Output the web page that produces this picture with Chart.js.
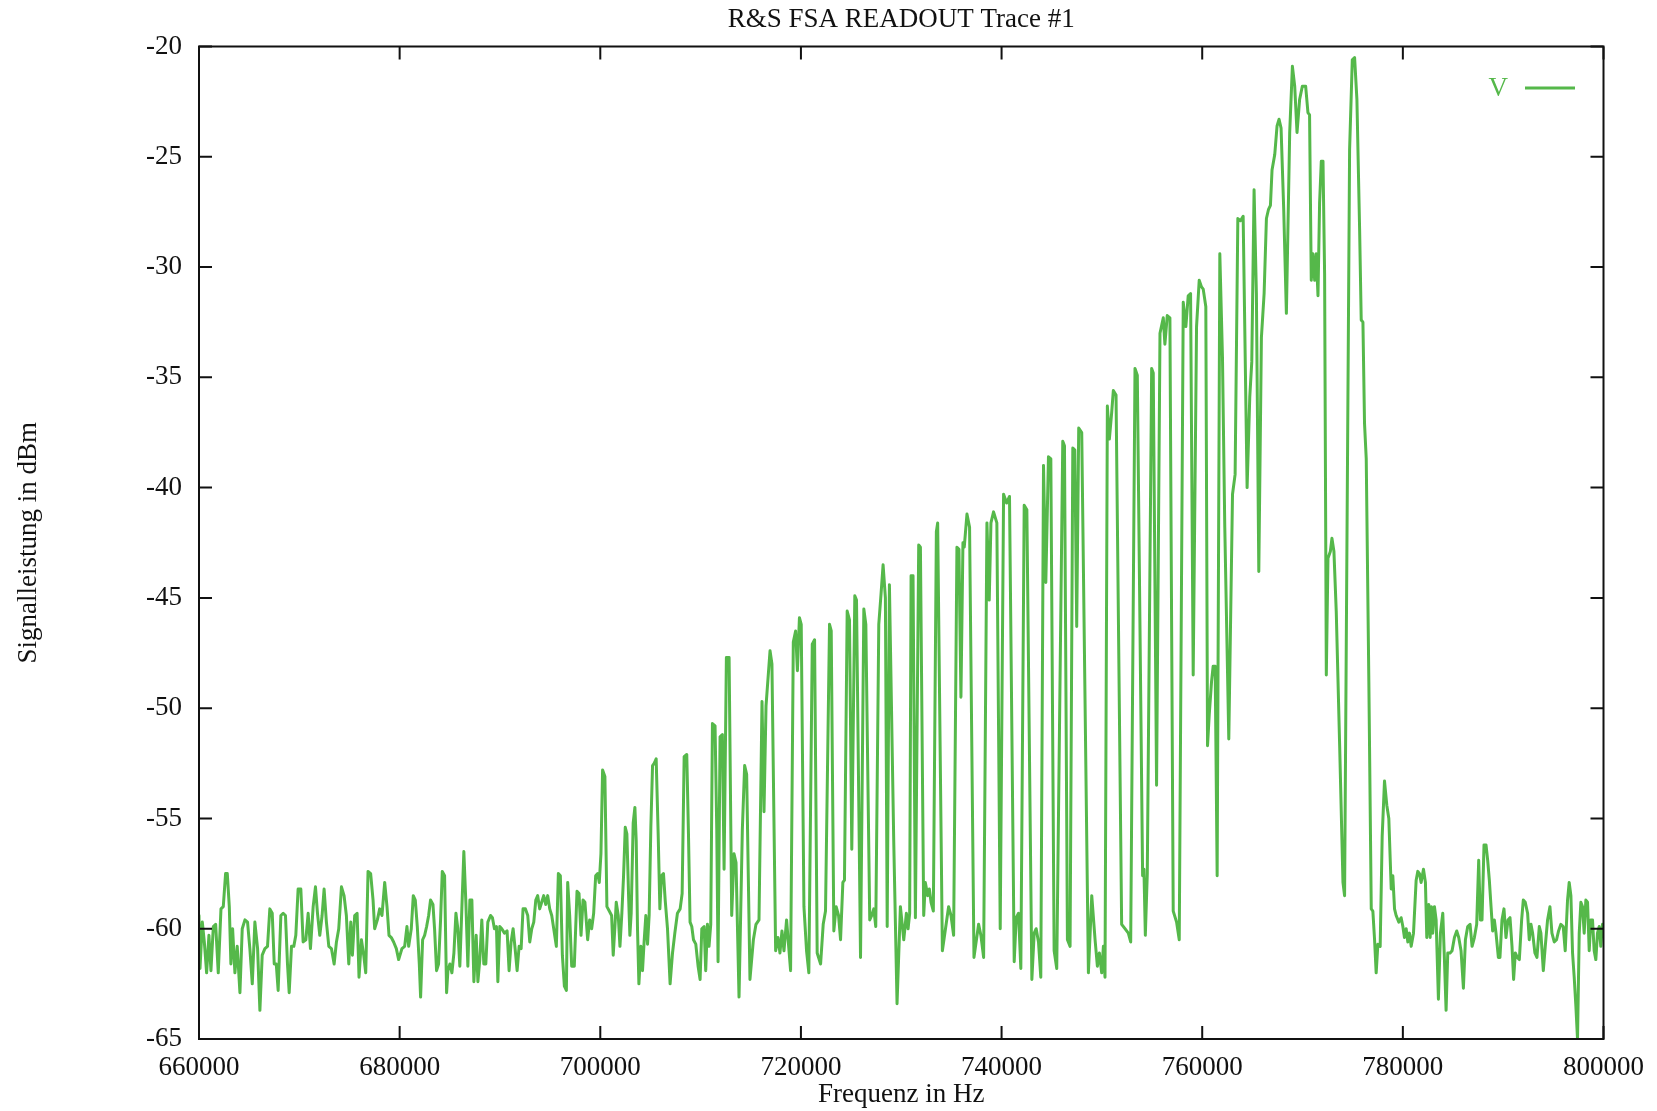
<!DOCTYPE html>
<html>
<head>
<meta charset="utf-8">
<title>R&amp;S FSA READOUT Trace #1</title>
<script src="https://cdn.jsdelivr.net/npm/chart.js@4.4.1/dist/chart.umd.min.js"></script>
<style>
  html, body { margin: 0; padding: 0; background: #fff; }
  canvas { display: block; }
</style>
</head>
<body>
<canvas id="trace" width="1657" height="1111"></canvas>
<script>
const chartTitle = 'R&S FSA READOUT Trace #1';
const seriesName = 'V';
const xTitle = 'Frequenz in Hz';
const yTitle = 'Signalleistung in dBm';

const xTicks = [660000, 680000, 700000, 720000, 740000, 760000, 780000, 800000];
const yTicks = [-65, -60, -55, -50, -45, -40, -35, -30, -25, -20];

// trace, Hz
const freqHz = [
  660000, 660100, 660330, 660530, 660760, 660990, 661190, 661430, 661660, 661920,
  662190, 662420, 662650, 662820, 663020, 663180, 663350, 663580, 663810, 664080,
  664310, 664580, 664840, 665070, 665310, 665570, 665840, 666070, 666300, 666570,
  666830, 667060, 667300, 667500, 667700, 667890, 668160, 668390, 668620, 668820,
  668990, 669220, 669450, 669650, 669880, 670150, 670380, 670650, 670880, 671110,
  671380, 671610, 671810, 672040, 672270, 672470, 672700, 672940, 673200, 673470,
  673700, 673930, 674200, 674460, 674690, 674930, 675130, 675290, 675520, 675760,
  675950, 676190, 676420, 676620, 676850, 677110, 677350, 677510, 677780, 678010,
  678240, 678510, 678740, 678940, 679170, 679400, 679670, 679900,
  680230, 680500, 680730, 680900, 681160, 681360, 681560, 681760, 681960, 682090,
  682290, 682490, 682690, 682890, 683080, 683320, 683480, 683680, 683880, 684080,
  684250, 684480, 684680, 684810, 685010, 685210, 685410, 685610, 685800, 686000,
  686200, 686400, 686600, 686800, 687000, 687200, 687400, 687630, 687800, 687990,
  688190, 688390, 688590, 688790, 689060, 689250, 689450, 689650, 689790, 689980,
  690180, 690450, 690710, 690910, 691110, 691310, 691510, 691710, 691910, 692110,
  692300, 692540, 692770, 692970, 693170, 693370, 693570, 693760, 693960, 694160,
  694360, 694560, 694760, 694960, 695160, 695360, 695620, 695820, 696020, 696220,
  696420, 696620, 696750, 696950, 697150, 697410, 697680, 697880, 698080, 698280,
  698470, 698740, 698940, 699140, 699340, 699540, 699740,
  699900, 700065, 700230, 700460, 700660, 700895, 701130, 701290, 701460, 701590,
  701790, 701960, 702150, 702320, 702490, 702650, 702820, 702950, 703080, 703280,
  703450, 703580, 703710, 703850, 704050, 704210, 704380, 704540, 704710, 704870,
  705040, 705210, 705370, 705570, 705770, 705940, 706100, 706300, 706470, 706700,
  706960, 707200, 707430, 707690, 707960, 708160, 708360, 708620, 708790, 708950,
  709120, 709290, 709520, 709750, 709950, 710120, 710350,
  710510, 710680, 710840, 711010, 711180, 711440, 711610, 711740, 711940, 712170,
  712340, 712570, 712840, 713100, 713330, 713530, 713830, 714160, 714390, 714590,
  714920, 715260, 715520, 715820, 716120, 716320, 716520, 716920, 717110, 717480,
  717710, 717910, 718110, 718310, 718570, 718970, 719240, 719470, 719650, 719850,
  720030,
  720300, 720560, 720790, 721130, 721360, 721620, 721960, 722220, 722450, 722850,
  723020, 723280, 723510, 723750, 723950, 724180, 724340, 724610, 724840, 725070,
  725370, 725540, 725940, 726270, 726470, 726860, 727060, 727260, 727460, 727760,
  727990, 728190, 728420, 728600, 728820, 729250, 729580, 729915, 730250, 730510,
  730680, 730840,
  730980, 731175, 731410, 731740, 731910, 732240, 732400, 732640, 732800, 732970,
  733200, 733500, 733630, 734100, 734720, 734960, 735220, 735550, 735750, 735950,
  736150, 736280, 736550, 736810, 737250, 737710, 737940, 738210, 738540, 738770,
  738940, 739200, 739530, 739865,
  740200, 740500, 740790, 741260, 741460, 741690, 741920, 742255, 742520, 743020,
  743250, 743450, 743680, 743910, 744180, 744410, 744675, 744910, 745240, 745500,
  746100, 746270, 746565, 746830, 747100, 747300, 747490, 747690, 747990, 748655,
  748990, 749320, 749550, 749750, 749980, 750150, 750310,
  750545, 750745, 750975, 751140, 751410, 751970, 752300, 752635, 752870, 753300,
  753530, 754060, 754190, 754330, 754525, 754960, 755120, 755450, 755790, 756120,
  756280, 756515, 756780, 757110, 757445, 757710, 758110, 758370, 758605, 758840,
  759100, 759435, 759700, 759930, 760100, 760360,
  760530, 760700, 760930, 761090, 761290, 761490, 761755, 762020, 762250, 762650,
  763020, 763280, 763550, 763810, 764080, 764475, 764740, 764940, 765170, 765400,
  765640, 765900, 766170, 766400, 766600, 766800, 766960, 767230, 767460, 767660,
  767860, 768125, 768390, 768720, 768990, 769220, 769450, 769710, 769980,
  770310, 770540, 770700, 770870, 771040, 771210, 771370, 771540, 771700, 771870,
  772040, 772200, 772370, 772535, 772770, 772930, 773130, 773360, 773700, 774030,
  774190, 774690, 774960, 775190, 775420, 775690, 775850, 776020, 776180, 776350,
  776610, 776850, 777010, 777180, 777340, 777510, 777740, 777940, 778170, 778400,
  778600, 778840, 779000, 779170, 779330, 779600,
  779830, 780000, 780160, 780330, 780495, 780660, 780830, 781060, 781325, 781490,
  781655, 781820, 782055, 782250, 782385, 782585, 782720, 782850, 782980, 783150,
  783315, 783545, 783745, 783980, 784145, 784310, 784475, 784710, 784905, 785140,
  785370, 785570, 785800, 786035, 786235, 786465, 786700, 786900, 787130, 787360,
  787560, 787725, 787890, 788090, 788290, 788455, 788620, 788790, 788950, 789120,
  789285, 789520, 789680, 789880, 790080, 790280, 790480, 790680, 790880, 791040,
  791210, 791410, 791610, 791840, 792005, 792200, 792435, 792600, 792770, 792935,
  793165, 793365, 793600, 793760, 794000, 794195, 794425, 794660, 794860, 795090,
  795320, 795520, 795750, 795985, 796185, 796415, 796580, 796750, 796915, 797080,
  797245, 797410, 797580, 797745, 797910, 798075, 798240, 798410, 798575, 798740,
  798905, 799070, 799235, 799400, 799570, 799730, 799900, 800000
];

// level at each frequency, dBm
const levelDbm = [
  -59.4, -61.8, -59.7, -60.6, -62.0, -60.3, -61.9, -59.9, -59.8, -62.0,
  -59.1, -59.0, -57.5, -57.5, -59.0, -61.6, -60.0, -62.0, -60.8, -62.9,
  -60.0, -59.6, -59.7, -60.9, -62.5, -59.7, -60.9, -63.7, -61.2, -60.9,
  -60.8, -59.1, -59.3, -61.6, -61.6, -62.8, -59.4, -59.3, -59.4, -61.6,
  -62.9, -60.8, -60.8, -60.3, -58.2, -58.2, -60.6, -60.5, -59.3, -60.9,
  -59.0, -58.1, -59.3, -60.3, -59.4, -58.2, -59.7, -60.8, -60.9, -61.6,
  -60.6, -60.0, -58.1, -58.5, -59.4, -61.6, -59.7, -61.2, -59.4, -59.3,
  -62.2, -60.5, -61.2, -62.0, -57.4, -57.5, -58.7, -60.0, -59.6, -59.1,
  -59.4, -57.9, -59.0, -60.3, -60.4, -60.6, -60.9, -61.4,
  -60.9, -60.8, -59.9, -60.8, -60.0, -58.5, -58.7, -59.9, -61.6, -63.1,
  -60.5, -60.3, -59.9, -59.4, -58.7, -58.9, -60.0, -61.9, -61.6, -59.6,
  -57.4, -57.6, -62.9, -61.9, -61.6, -62.0, -61.1, -59.3, -60.0, -61.7,
  -59.1, -56.5, -58.8, -61.7, -58.7, -58.7, -62.4, -60.3, -62.4, -61.4,
  -59.6, -61.6, -61.6, -59.7, -59.4, -59.5, -60.0, -59.9, -62.4, -59.9,
  -60.0, -60.2, -60.1, -61.9, -60.6, -60.0, -60.9, -61.9, -60.8, -60.9,
  -59.1, -59.1, -59.4, -60.6, -60.0, -59.7, -58.7, -58.5, -59.1, -58.8,
  -58.5, -58.9, -58.5, -59.1, -59.4, -60.0, -60.8, -57.5, -57.6, -61.2,
  -62.6, -62.8, -57.9, -59.4, -61.7, -61.7, -58.3, -58.4, -60.3, -58.7,
  -58.8, -60.5, -59.6, -60.0, -59.3, -57.6, -57.5,
  -57.9, -56.6, -52.8, -53.1, -59.0, -59.2, -59.4, -61.2, -59.9, -58.8,
  -59.4, -60.8, -59.3, -57.6, -55.4, -55.7, -58.5, -60.3, -59.3, -55.2,
  -54.5, -56.0, -60.0, -62.5, -60.8, -61.9, -60.5, -59.4, -60.7, -59.4,
  -55.4, -52.6, -52.5, -52.3, -55.7, -59.1, -57.6, -57.5, -58.7, -60.0,
  -62.5, -61.1, -60.2, -59.3, -59.1, -58.4, -52.2, -52.1, -55.7, -59.7,
  -59.9, -60.5, -60.7, -61.7, -62.3, -60.0, -59.9,
  -61.9, -59.8, -60.8, -59.8, -50.7, -50.8, -55.5, -61.5, -51.3, -51.2,
  -57.3, -47.7, -47.7, -59.4, -56.6, -57.0, -63.1, -55.5, -52.6, -53.0,
  -62.3, -60.5, -59.8, -59.6, -49.7, -54.7, -49.9, -47.4, -48.0, -61.0,
  -60.4, -61.1, -60.1, -61.0, -59.6, -61.9, -47.0, -46.5, -48.3, -45.9,
  -46.2,
  -59.0, -61.0, -62.0, -47.1, -46.9, -61.1, -61.6, -59.8, -59.2, -46.2,
  -46.5, -60.1, -59.0, -59.4, -60.5, -57.9, -57.8, -45.6, -46.0, -56.4,
  -44.9, -45.1, -61.3, -45.5, -46.2, -59.6, -59.4, -59.1, -59.9, -46.2,
  -44.8, -43.5, -45.0, -59.9, -44.4, -56.0, -63.4, -59.0, -60.5, -59.3,
  -60.0, -59.3,
  -44.0, -44.0, -59.5, -42.6, -42.7, -59.4, -57.9, -58.5, -58.2, -58.8,
  -59.2, -42.0, -41.6, -61.0, -59.0, -59.4, -60.3, -42.7, -42.8, -49.5,
  -42.5, -42.7, -41.2, -41.8, -61.3, -59.8, -60.3, -61.3, -41.6, -45.1,
  -41.6, -41.1, -41.6, -60.0,
  -40.3, -40.7, -40.4, -61.5, -59.5, -59.3, -61.8, -40.8, -41.0, -62.3,
  -60.2, -60.0, -60.6, -62.2, -39.0, -44.3, -38.6, -38.7, -61.0, -61.8,
  -37.9, -38.1, -60.5, -60.8, -38.2, -38.3, -46.3, -37.3, -37.5, -62.0,
  -58.5, -60.5, -61.7, -61.1, -62.0, -60.8, -62.2,
  -36.3, -37.8, -36.6, -35.6, -35.8, -59.8, -60.0, -60.2, -60.6, -34.6,
  -34.9, -57.6, -57.3, -60.3, -57.5, -34.6, -34.8, -53.5, -33.0, -32.3,
  -33.5, -32.2, -32.3, -59.2, -59.7, -60.5, -31.6, -32.7, -31.3, -31.2,
  -48.5, -32.7, -30.6, -30.9, -31.0, -31.8,
  -51.7, -50.3, -48.8, -48.1, -48.1, -57.6, -29.4, -34.1, -41.8, -51.4,
  -40.3, -39.4, -27.8, -27.9, -27.7, -40.0, -35.9, -34.3, -26.5, -31.2,
  -43.8, -33.2, -31.2, -27.8, -27.4, -27.2, -25.6, -24.9, -23.6, -23.3,
  -23.7, -27.4, -32.1, -23.9, -20.9, -21.8, -23.9, -22.4, -21.8,
  -21.8, -23.0, -23.1, -30.6, -29.4, -30.6, -29.4, -31.3, -27.1, -25.2,
  -25.2, -30.3, -48.5, -43.2, -42.9, -42.3, -42.9, -45.6, -51.7, -57.9,
  -58.5, -24.7, -20.6, -20.5, -22.4, -28.3, -32.4, -32.5, -37.1, -38.7,
  -48.8, -59.1, -59.2, -60.5, -62.0, -60.7, -60.8, -55.8, -53.3, -54.4,
  -55.0, -58.2, -57.6, -59.1, -59.4, -59.7,
  -59.5, -59.9, -60.4, -60.0, -60.6, -60.2, -60.8, -60.2, -57.8, -57.4,
  -57.5, -57.9, -57.3, -57.9, -60.4, -58.9, -60.4, -59.0, -60.2, -59.0,
  -59.6, -63.2, -60.2, -59.3, -61.4, -63.7, -61.1, -61.1, -61.0, -60.4,
  -60.1, -60.4, -61.0, -62.7, -60.5, -59.9, -59.8, -60.8, -60.4, -59.8,
  -56.9, -59.6, -59.6, -56.2, -56.2, -56.9, -57.8, -59.0, -60.1, -59.6,
  -60.2, -61.3, -61.3, -59.6, -59.1, -60.4, -59.6, -59.5, -60.8, -62.3,
  -61.1, -61.3, -61.4, -59.6, -58.7, -58.8, -59.3, -60.5, -59.8, -60.2,
  -61.1, -61.3, -59.9, -60.2, -61.9, -60.8, -59.6, -59.0, -60.2, -60.6,
  -60.5, -60.1, -59.8, -59.9, -61.0, -58.7, -57.9, -58.5, -61.1, -62.2,
  -63.5, -65.0, -60.2, -58.8, -59.0, -60.2, -58.7, -58.8, -61.0, -59.6,
  -59.6, -61.0, -61.4, -60.2, -59.9, -60.8, -59.8, -59.9
];

const GREEN = '#55b84a';
const INK = '#111';
const FONT = 'Liberation Serif';
const TICK = 13;

Chart.defaults.font.family = FONT;
Chart.defaults.font.size = 27;
Chart.defaults.color = INK;

// gnuplot style frame: border, inward ticks on all four sides, title, key
const gnuplotFrame = {
  id: 'gnuplotFrame',
  afterDraw(chart) {
    const { ctx, chartArea: a, scales: { x, y } } = chart;
    ctx.save();
    ctx.strokeStyle = INK;
    ctx.lineWidth = 2;
    ctx.strokeRect(a.left, a.top, a.right - a.left, a.bottom - a.top);

    ctx.beginPath();
    xTicks.forEach(v => {
      const px = x.getPixelForValue(v);
      ctx.moveTo(px, a.bottom); ctx.lineTo(px, a.bottom - TICK);
      ctx.moveTo(px, a.top); ctx.lineTo(px, a.top + TICK);
    });
    yTicks.forEach(v => {
      const py = y.getPixelForValue(v);
      ctx.moveTo(a.left, py); ctx.lineTo(a.left + TICK, py);
      ctx.moveTo(a.right, py); ctx.lineTo(a.right - TICK, py);
    });
    ctx.stroke();

    ctx.font = '27px "' + FONT + '"';
    ctx.textBaseline = 'middle';
    ctx.fillStyle = INK;
    ctx.textAlign = 'center';
    ctx.fillText(chartTitle, (a.left + a.right) / 2, 20);

    // key, top right
    ctx.fillStyle = GREEN;
    ctx.textAlign = 'right';
    ctx.fillText(seriesName, 1508, 89);
    ctx.strokeStyle = GREEN;
    ctx.lineWidth = 3;
    ctx.beginPath();
    ctx.moveTo(1525, 88);
    ctx.lineTo(1575, 88);
    ctx.stroke();
    ctx.restore();
  }
};

new Chart(document.getElementById('trace'), {
  type: 'line',
  data: {
    datasets: [{
      label: seriesName,
      data: freqHz.map((f, i) => ({ x: f, y: levelDbm[i] })),
      borderColor: GREEN,
      borderWidth: 3,
      borderJoinStyle: 'round',
      borderCapStyle: 'round',
      pointRadius: 0,
      tension: 0,
      fill: false
    }]
  },
  options: {
    responsive: false,
    animation: false,
    events: [],
    layout: { padding: { top: 46.5, right: 51, left: 0, bottom: 0 } },
    plugins: {
      legend: { display: false },
      title: { display: false },
      tooltip: { enabled: false }
    },
    scales: {
      x: {
        type: 'linear',
        min: 660000,
        max: 800000,
        afterBuildTicks: s => { s.ticks = xTicks.map(v => ({ value: v })); },
        afterFit: s => { s.height = 72; },
        grid: { display: false, drawTicks: false },
        border: { display: false },
        ticks: {
          padding: 13,
          maxRotation: 0,
          autoSkip: false,
          callback: v => String(v)
        },
        title: { display: true, text: xTitle, padding: { top: 0, bottom: 0 } }
      },
      y: {
        min: -65,
        max: -20,
        afterBuildTicks: s => { s.ticks = yTicks.map(v => ({ value: v })); },
        afterFit: s => { s.width = 199; },
        grid: { display: false, drawTicks: false },
        border: { display: false },
        ticks: { padding: 17, callback: v => String(v) },
        title: { display: true, text: yTitle, padding: { top: 12.3, bottom: 0 } }
      }
    }
  },
  plugins: [gnuplotFrame]
});
</script>
</body>
</html>
